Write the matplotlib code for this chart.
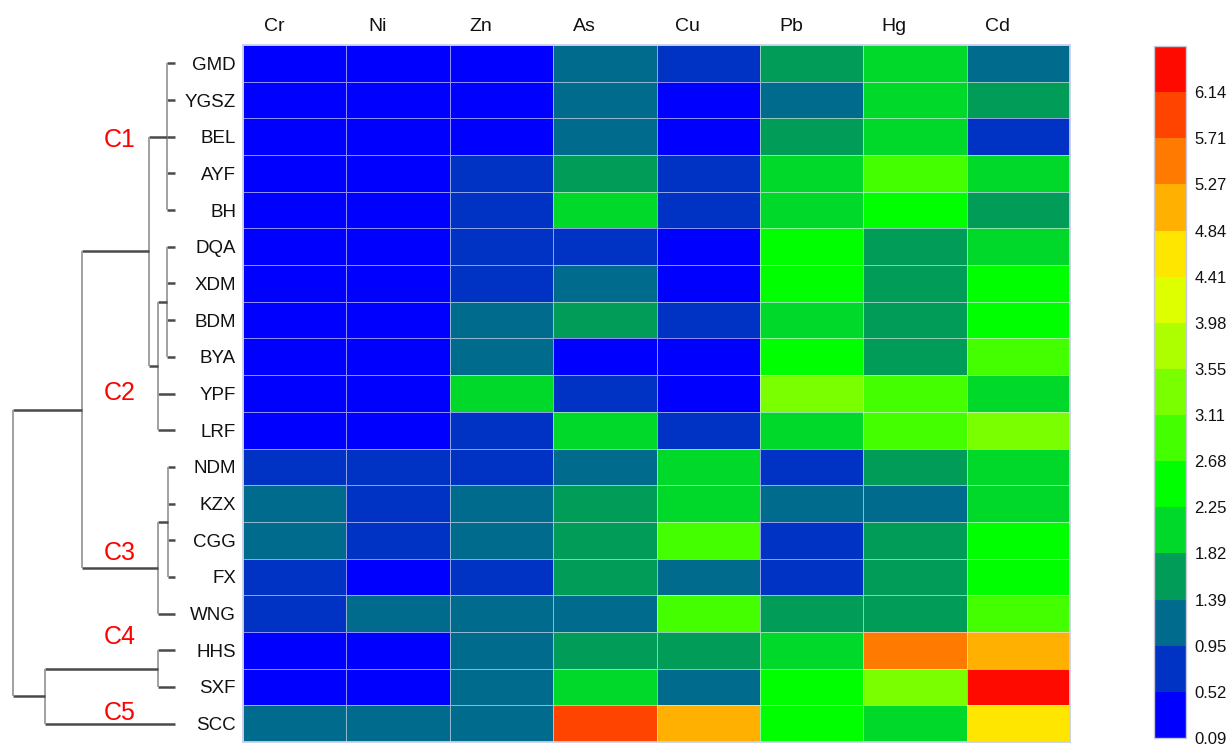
import numpy as np
import matplotlib
matplotlib.use("Agg")
import matplotlib.pyplot as plt
from matplotlib.colors import ListedColormap, BoundaryNorm
import matplotlib.colorbar as mcolorbar

# ---- data -------------------------------------------------------------
sites = ["GMD", "YGSZ", "BEL", "AYF", "BH", "DQA", "XDM", "BDM", "BYA", "YPF",
         "LRF", "NDM", "KZX", "CGG", "FX", "WNG", "HHS", "SXF", "SCC"]
metals = ["Cr", "Ni", "Zn", "As", "Cu", "Pb", "Hg", "Cd"]

cr = [0.28, 0.25, 0.31, 0.27, 0.33, 0.30, 0.29, 0.35, 0.32, 0.26, 0.34, 0.61, 1.02, 1.09, 0.80, 0.67, 0.31, 0.36, 1.16]
ni = [0.21, 0.19, 0.24, 0.22, 0.26, 0.23, 0.20, 0.25, 0.21, 0.19, 0.27, 0.58, 0.65, 0.69, 0.48, 1.00, 0.29, 0.24, 1.05]
zn = [0.35, 0.41, 0.44, 0.68, 0.71, 0.74, 0.79, 1.01, 1.07, 2.06, 0.77, 0.70, 1.13, 1.21, 0.73, 1.14, 1.19, 1.23, 1.27]
as_ = [1.12, 1.08, 1.15, 1.52, 1.96, 0.82, 1.03, 1.49, 0.47, 0.71, 2.11, 1.26, 1.61, 1.67, 1.57, 1.29, 1.54, 2.01, 5.88]
cu = [0.71, 0.38, 0.36, 0.63, 0.66, 0.40, 0.45, 0.69, 0.37, 0.42, 0.72, 2.09, 2.17, 2.94, 1.21, 2.83, 1.68, 1.34, 5.09]
pb = [1.63, 1.25, 1.58, 2.08, 2.12, 2.41, 2.52, 2.15, 2.58, 3.36, 2.03, 0.81, 1.18, 0.86, 0.78, 1.45, 2.14, 2.47, 2.39]
hg = [2.05, 2.10, 1.98, 2.85, 2.49, 1.66, 1.59, 1.70, 1.62, 2.92, 2.96, 1.55, 1.31, 1.72, 1.64, 1.76, 5.46, 3.41, 2.12]
cd = [1.20, 1.55, 0.76, 2.01, 1.61, 2.05, 2.38, 2.44, 2.79, 1.97, 3.22, 1.93, 2.10, 2.50, 2.35, 2.88, 5.03, 6.38, 4.63]

# colour classes of the legend
class_bounds = [0.09, 0.52, 0.95, 1.39, 1.82, 2.25, 2.68, 3.11, 3.55,
                3.98, 4.41, 4.84, 5.27, 5.71, 6.14, 6.57]
class_colors = ["#0000FF", "#0033C4", "#006B8C", "#009C58", "#00D82A",
                "#00FF00", "#44FF00", "#7AFF00", "#ADFF00", "#DDFF00",
                "#FFE600", "#FFB000", "#FF7A00", "#FF4400", "#FF0A00"]

# hierarchical clustering of the sites: (node, members, linkage distance)
merges = [
    ("C1",   ["GMD", "YGSZ", "BEL", "AYF", "BH"], 1.2),
    ("C2a",  ["DQA", "XDM", "BDM", "BYA"], 1.2),
    ("C2",   ["C2a", "YPF", "LRF"], 2.6),
    ("C12",  ["C1", "C2"], 4.0),
    ("C3a",  ["NDM", "KZX", "CGG", "FX"], 1.1),
    ("C3",   ["C3a", "WNG"], 2.6),
    ("C123", ["C12", "C3"], 14.4),
    ("C4",   ["HHS", "SXF"], 2.6),
    ("C45",  ["C4", "SCC"], 20.0),
    ("root", ["C123", "C45"], 25.0),
]

cluster_names = ["C1", "C2", "C3", "C4", "C5"]
cluster_label_rows = [2.6, 9.5, 13.85, 16.15, 18.2]

# ---- figure -----------------------------------------------------------
W, H = 1226, 746
fig = plt.figure(figsize=(W / 100, H / 100), dpi=100)

def px_axes(x0, y0, x1, y1):
    return fig.add_axes([x0 / W, 1 - y1 / H, (x1 - x0) / W, (y1 - y0) / H])

label_font = ["Liberation Sans", "DejaVu Sans"]
text_color = "#111111"

# heatmap
ax = px_axes(243, 45, 1070, 742)
data = np.column_stack([cr, ni, zn, as_, cu, pb, hg, cd])
cmap = ListedColormap(class_colors)
norm = BoundaryNorm(class_bounds, cmap.N)
ax.pcolormesh(np.arange(len(metals) + 1), np.arange(len(sites) + 1), data,
              cmap=cmap, norm=norm, edgecolors=(0.93, 0.93, 1.0, 0.6),
              linewidth=0.7)
ax.set_xlim(0, len(metals))
ax.set_ylim(len(sites), 0)
ax.set_xticks([])
ax.set_yticks(np.arange(len(sites)) + 0.5)
ax.set_yticklabels(sites, fontsize=13.5, family=label_font, color=text_color)
ax.tick_params(axis="y", length=0, pad=5)
for s in ax.spines.values():
    s.set_color("#c8d0ea")
    s.set_linewidth(1.3)
for j, m in enumerate(metals):
    ax.text(j + 0.3, -0.5, m, ha="center", va="center", fontsize=14,
            family=label_font, color=text_color)

# dendrogram
dax = px_axes(13, 45, 175, 742)
dax.set_xlim(25, 0)
dax.set_ylim(len(sites), 0)
dax.axis("off")

pos = {s: (i + 0.5, 0.0) for i, s in enumerate(sites)}
for name, members, dist in merges:
    ys = []
    for m in members:
        y, d0 = pos[m]
        dax.plot([d0, dist], [y, y], color="#4a4a4a", lw=1.8,
                 solid_capstyle="butt", clip_on=False)
        ys.append(y)
    dax.plot([dist, dist], [min(ys), max(ys)], color="#9a9a9a", lw=1.3,
             solid_capstyle="butt", clip_on=False)
    pos[name] = ((min(ys) + max(ys)) / 2, dist)

for name, row in zip(cluster_names, cluster_label_rows):
    dax.text(8.5, row, name, ha="center", va="center", fontsize=18,
             family=label_font, color="#ff0000", clip_on=False)

# colour legend
cax = px_axes(1154, 46, 1186, 738)
cb = mcolorbar.ColorbarBase(cax, cmap=cmap, norm=norm,
                            boundaries=class_bounds,
                            ticks=class_bounds[:-1], spacing="uniform")
cb.outline.set_edgecolor("#c8c8d8")
cb.outline.set_linewidth(1.0)
cax.minorticks_off()
cax.tick_params(length=0, pad=6)
cax.set_yticks(class_bounds[:-1])
cax.set_yticklabels([f"{b:.2f}" for b in class_bounds[:-1]],
                    fontsize=12, family=label_font, color=text_color)

fig.savefig("out.png", dpi=100)
